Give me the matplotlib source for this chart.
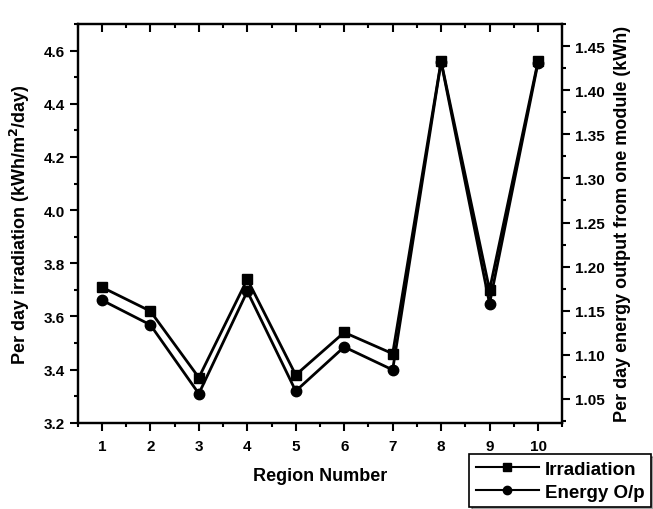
import matplotlib
matplotlib.use("Agg")
import matplotlib.pyplot as plt
from matplotlib.ticker import MultipleLocator
from matplotlib.lines import Line2D

plt.rcParams['font.family'] = ['Liberation Sans', 'DejaVu Sans']
plt.rcParams['font.weight'] = 'bold'

# data
regions = [1, 2, 3, 4, 5, 6, 7, 8, 9, 10]
irradiation = [3.71, 3.62, 3.37, 3.74, 3.38, 3.54, 3.46, 4.56, 3.70, 4.56]
energy = [1.162, 1.134, 1.056, 1.172, 1.059, 1.109, 1.083, 1.432, 1.158, 1.431]

fig = plt.figure(figsize=(6.53, 5.10), dpi=100)
ax = fig.add_axes([0.119, 0.169, 0.742, 0.782])
ax2 = ax.twinx()

ax.plot(regions, irradiation, color='black', lw=2, marker='s', ms=7)
ax2.plot(regions, energy, color='black', lw=2, marker='o', ms=7.5)

ax.set_xlim(0.5, 10.5)
ax.set_ylim(3.2, 4.7)
ax2.set_ylim(1.023, 1.475)

ax.set_xticks(regions)
ax.xaxis.set_minor_locator(MultipleLocator(0.5))
ax.yaxis.set_major_locator(MultipleLocator(0.2))
ax.yaxis.set_minor_locator(MultipleLocator(0.1))
ax2.set_yticks([1.05, 1.10, 1.15, 1.20, 1.25, 1.30, 1.35, 1.40, 1.45])
ax2.yaxis.set_minor_locator(MultipleLocator(0.025))
ax.set_yticks([3.2, 3.4, 3.6, 3.8, 4.0, 4.2, 4.4, 4.6])
ax.yaxis.set_major_formatter(matplotlib.ticker.FormatStrFormatter('%.1f'))
ax2.yaxis.set_major_formatter(matplotlib.ticker.FormatStrFormatter('%.2f'))

for a in (ax, ax2):
    for s in a.spines.values():
        s.set_linewidth(1.6)
ax.tick_params(axis='x', which='both', direction='out', top=True, labeltop=False,
               labelsize=11, width=1.5, pad=6)
ax.tick_params(axis='x', which='major', length=6)
ax.tick_params(axis='x', which='minor', length=3)
ax.tick_params(axis='y', which='major', direction='out', length=6, width=1.5, labelsize=11)
ax.tick_params(axis='y', which='minor', direction='out', length=3, width=1.5)
ax2.tick_params(axis='y', which='major', direction='out', length=6, width=1.5, labelsize=11)
ax2.tick_params(axis='y', which='minor', direction='out', length=3, width=1.5)

# top ticks point into the plot (Origin style)
for t in ax.xaxis.get_major_ticks() + ax.xaxis.get_minor_ticks():
    t.tick2line.set_marker(matplotlib.lines.TICKDOWN)

ax.set_xlabel('Region Number', fontsize=13, fontweight='bold', labelpad=10)
ax.set_ylabel('Per day irradiation (kWh/m$^\\mathbf{2}$/day)', fontsize=13,
              fontweight='bold', labelpad=8)
ax2.set_ylabel('Per day energy output from one module (kWh)', fontsize=13,
               fontweight='bold', labelpad=6)

handles = [Line2D([], [], color='black', lw=1.5, marker='s', ms=6),
           Line2D([], [], color='black', lw=1.5, marker='o', ms=6)]
leg = fig.legend(handles, ['Irradiation', 'Energy O/p'], loc='lower right',
                 bbox_to_anchor=(1.0, 0.0), fontsize=13.5, frameon=True,
                 fancybox=False, shadow=True, borderpad=0.35, handlelength=3.4,
                 labelspacing=0.3, handletextpad=0.3, borderaxespad=0.1)
leg.get_frame().set_edgecolor('black')
leg.get_frame().set_linewidth(1.2)

fig.savefig('out.png', dpi=100)
